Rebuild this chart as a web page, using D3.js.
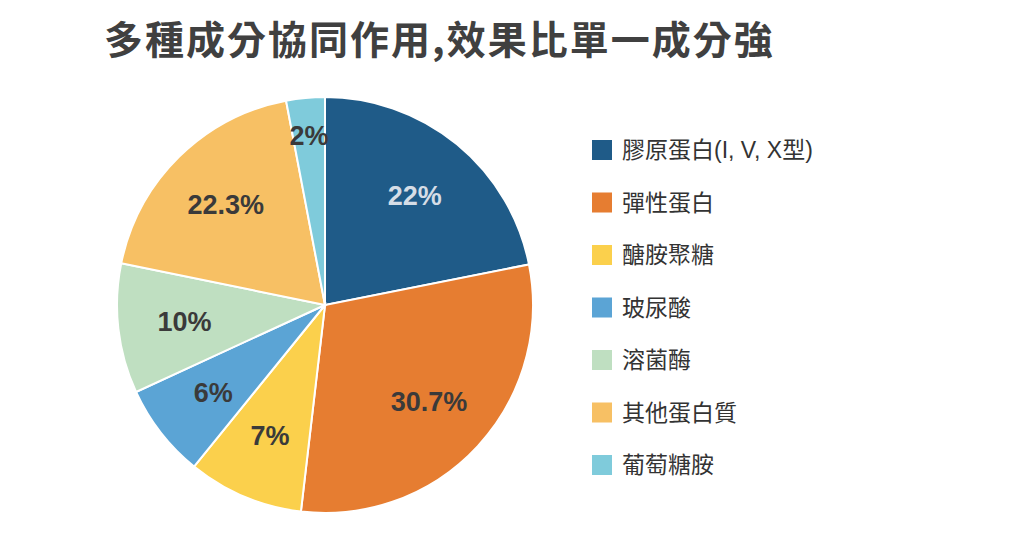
<!DOCTYPE html>
<html><head><meta charset="utf-8">
<script src="https://cdn.jsdelivr.net/npm/d3@7"></script>
<style>body{margin:0;background:#fff}</style></head>
<body><svg id="c" width="1025" height="534"></svg>
<script>
const categories = ["膠原蛋白(I, V, X型)","彈性蛋白","醣胺聚糖","玻尿酸","溶菌酶","其他蛋白質","葡萄糖胺"];
const values = [21.9, 30, 9, 7.3, 10.1, 18.8, 3];
const labels = ["22%","30.7%","7%","6%","10%","22.3%","2%"];
const colors = ["#1f5b88","#e67d31","#fbd04c","#5ba4d5","#bfdfc1","#f7c064","#7fcbdb"];
const title = "多種成分協同作用,效果比單一成分強";

const svg = d3.select("#c");
const font = "'Liberation Sans', 'Noto Sans CJK TC', sans-serif";
svg.append("text").attr("x",104).attr("y",54).attr("font-family","'Noto Sans CJK TC', sans-serif")
  .attr("font-size",39).attr("letter-spacing",2).attr("font-weight","bold").attr("fill","#404040").text(title);

const cx=325, cy=305, r=208;
const g = svg.append("g").attr("transform",`translate(${cx},${cy})`);
const pie = d3.pie().sort(null).value(d=>d);
const arcs = pie(values);
const arc = d3.arc().innerRadius(0).outerRadius(r);
g.selectAll("path").data(arcs).join("path").attr("d",arc)
  .attr("fill",(d,i)=>colors[i]).attr("stroke","#fff").attr("stroke-width",2);
g.selectAll("text").data(arcs).join("text")
  .attr("transform",d=>{const k=(d.endAngle-d.startAngle)<0.3?0.82:0.68;
    const a=d3.arc().innerRadius(r*k).outerRadius(r*k);return `translate(${a.centroid(d)})`;})
  .attr("text-anchor","middle").attr("dy","0.36em")
  .attr("font-family","'Liberation Sans', Arial, sans-serif").attr("font-weight","bold").attr("font-size",27)
  .attr("fill",(d,i)=>i===0?"#d5dde6":"#3a3a3a").text((d,i)=>labels[i]);

const y = d3.scalePoint().domain(categories).range([150,465]);
const lg = svg.append("g");
categories.forEach(c=>{
  const i=categories.indexOf(c);
  lg.append("rect").attr("x",592).attr("y",y(c)-10).attr("width",20).attr("height",20).attr("fill",colors[i]);
  lg.append("text").attr("x",622).attr("y",y(c)).attr("dy","0.36em").attr("font-family",font)
    .attr("font-size",23).attr("fill","#333").text(c);
});
</script></body></html>
